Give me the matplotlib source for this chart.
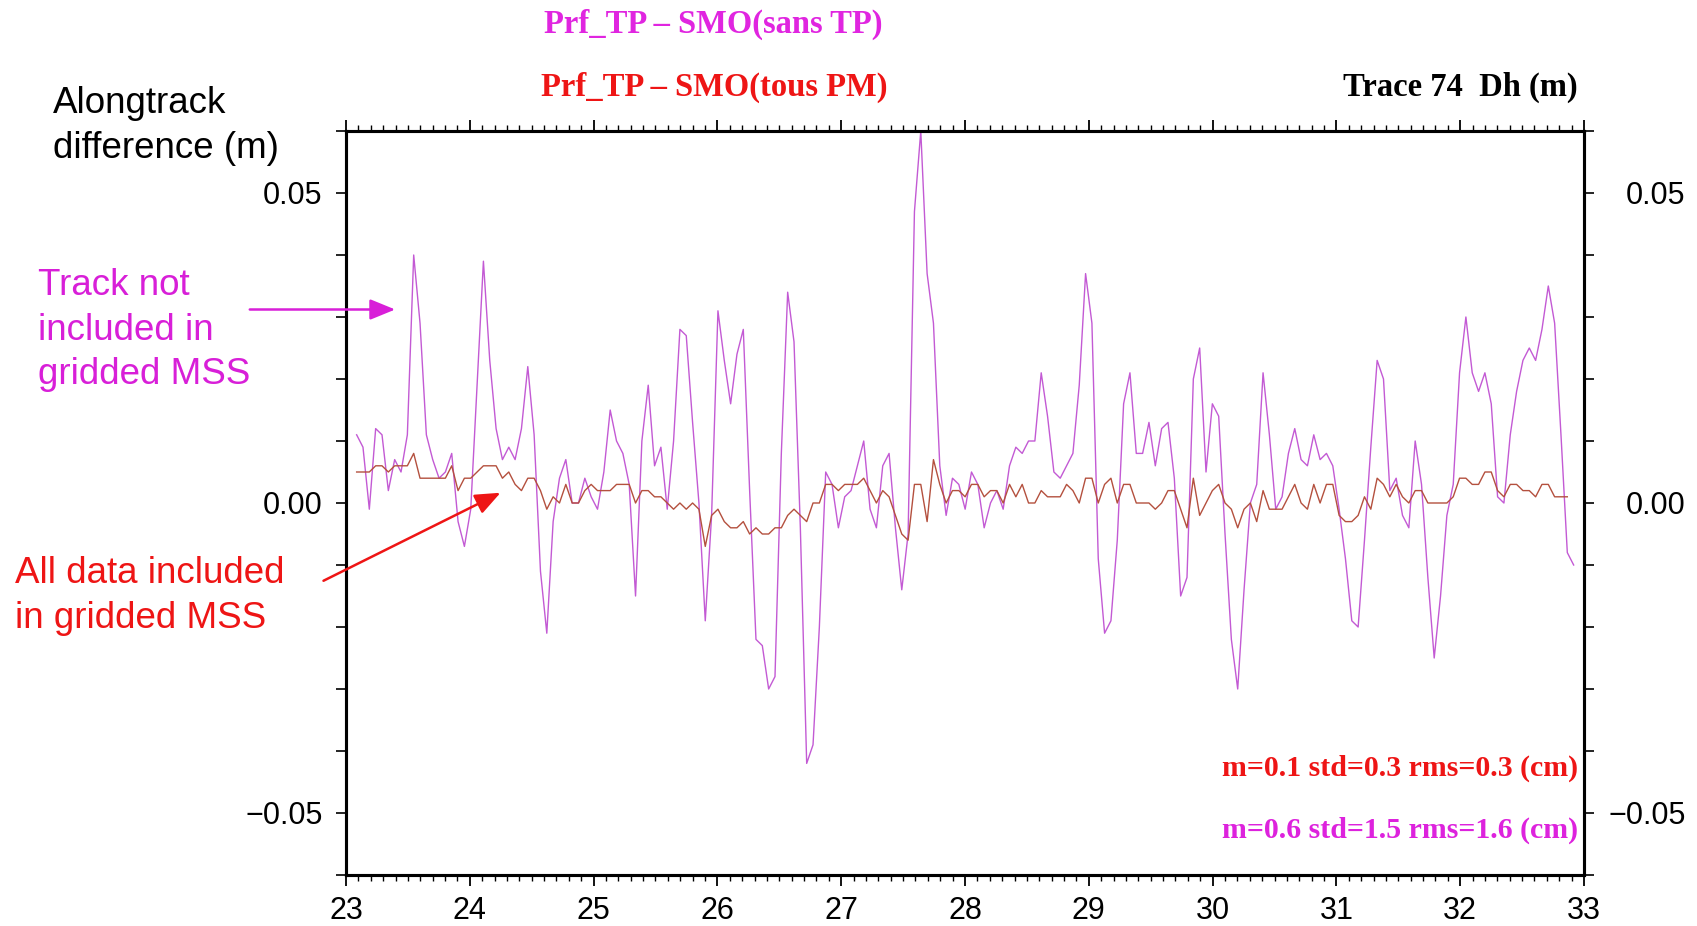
import numpy as np
import matplotlib
matplotlib.use("Agg")
import matplotlib.pyplot as plt
from matplotlib.patches import FancyArrowPatch
from matplotlib.ticker import MultipleLocator

# along-track samples, values in mm
X_START = 23.086
X_STEP = 0.0512

SANS_TP_MM = [
    11, 9, -1, 12, 11, 2, 7, 5, 11, 40, 29, 11, 7, 4, 5, 8, -3, -7, -1, 19,
    39, 23, 12, 7, 9, 7, 12, 22, 11, -11, -21, -3, 4, 7, 0, 0, 4, 1, -1, 5,
    15, 10, 8, 3, -15, 10, 19, 6, 9, -1, 10, 28, 27, 13, 0, -19, -2, 31, 23, 16,
    24, 28, 2, -22, -23, -30, -28, 8, 34, 26, -4, -42, -39, -20, 5, 3, -4, 1, 2, 6,
    10, -1, -4, 6, 8, -4, -14, -5, 47, 60, 37, 29, 6, -2, 4, 3, -1, 5, 3, -4,
    0, 2, -1, 6, 9, 8, 10, 10, 21, 14, 5, 4, 6, 8, 19, 37, 29, -9, -21, -19,
    -6, 16, 21, 8, 8, 13, 6, 12, 13, 4, -15, -12, 20, 25, 5, 16, 14, -5, -22, -30,
    -14, 0, 3, 21, 11, -1, 1, 8, 12, 7, 6, 11, 7, 8, 6, -1, -9, -19, -20, -6,
    9, 23, 20, 2, 4, -2, -4, 10, 3, -12, -25, -15, -2, 3, 21, 30, 21, 18, 21, 16,
    1, 0, 11, 18, 23, 25, 23, 28, 35, 29, 11, -8, -10,
]

TOUS_PM_MM = [
    5, 5, 5, 6, 6, 5, 6, 6, 6, 8, 4, 4, 4, 4, 4, 6, 2, 4, 4, 5,
    6, 6, 6, 4, 5, 3, 2, 4, 4, 2, -1, 1, 0, 3, 0, 0, 2, 3, 2, 2,
    2, 3, 3, 3, 0, 2, 2, 1, 1, 0, -1, 0, -1, 0, -1, -7, -2, -1, -3, -4,
    -4, -3, -5, -4, -5, -5, -4, -4, -2, -1, -2, -3, 0, 0, 3, 3, 2, 3, 3, 3,
    4, 2, 0, 2, 1, -2, -5, -6, 3, 3, -3, 7, 3, 0, 2, 2, 1, 3, 3, 1,
    2, 2, 0, 3, 1, 3, 0, 0, 2, 1, 1, 1, 3, 2, 0, 4, 4, 0, 3, 4,
    0, 3, 3, 0, 0, 0, -1, 0, 2, 2, -1, -4, 4, -2, 0, 2, 3, 0, -1, -4,
    -1, 0, -3, 2, -1, -1, -1, 1, 3, 0, -1, 3, 0, 3, 3, -2, -3, -3, -2, 1,
    -1, 4, 3, 1, 3, 1, 0, 2, 2, 0, 0, 0, 0, 1, 4, 4, 3, 3, 5, 5,
    2, 1, 3, 3, 2, 2, 1, 3, 3, 1, 1, 1,
]

X_TICKS = [23, 24, 25, 26, 27, 28, 29, 30, 31, 32, 33]
Y_TICKS = [-0.05, 0.0, 0.05]
Y_TICK_LABELS = ["\u22120.05", "0.00", "0.05"]

TITLE_SANS = "Prf_TP \u2013 SMO(sans TP)"
TITLE_TOUS = "Prf_TP \u2013 SMO(tous PM)"
TITLE_TRACE = "Trace 74  Dh (m)"
STATS_TOUS = "m=0.1 std=0.3 rms=0.3 (cm)"
STATS_SANS = "m=0.6 std=1.5 rms=1.6 (cm)"

MAG_LINE = "#c35ad4"
RED_LINE = "#b4503e"
MAG_TEXT = "#d81fd8"
RED_TEXT = "#ee1515"

plt.rcParams["font.family"] = ["Liberation Sans", "DejaVu Sans"]
SERIF = ["Liberation Serif", "DejaVu Serif"]

W, H = 1697, 926
fig = plt.figure(figsize=(W / 100, H / 100), dpi=100)


def fx(px):
    return px / W


def fy(py):
    return 1 - py / H


ax = fig.add_axes([fx(346), fy(875), fx(1584) - fx(346), fy(131) - fy(875)])

sans = np.array(SANS_TP_MM) / 1000.0
tous = np.array(TOUS_PM_MM) / 1000.0
x_sans = X_START + X_STEP * np.arange(len(sans))
x_tous = X_START + X_STEP * np.arange(len(tous))

ax.plot(x_sans, sans, color=MAG_LINE, lw=1.0, zorder=2)
ax.plot(x_tous, tous, color=RED_LINE, lw=1.0, zorder=3)

ax.set_xlim(23, 33)
ax.set_ylim(-0.06, 0.06)

ax.set_xticks(X_TICKS)
ax.set_xticklabels([str(t) for t in X_TICKS])
ax.xaxis.set_minor_locator(MultipleLocator(0.1))
ax.tick_params(axis="x", which="major", direction="out", length=8, width=1.3,
               top=True, labelsize=22, pad=7)
ax.tick_params(axis="x", which="minor", direction="out", length=4, width=1.0, top=True)

ax.set_yticks(Y_TICKS)
ax.set_yticklabels(Y_TICK_LABELS)
ax.yaxis.set_minor_locator(MultipleLocator(0.01))
ax.tick_params(axis="y", which="both", direction="out", length=7, width=1.2,
               right=False, labelsize=22, pad=10)

for sp in ax.spines.values():
    sp.set_linewidth(2.2)

# right-hand axis with right-aligned labels
ax2 = ax.twinx()
ax2.set_ylim(-0.06, 0.06)
ax2.set_yticks(Y_TICKS)
ax2.set_yticklabels(Y_TICK_LABELS)
ax2.yaxis.set_minor_locator(MultipleLocator(0.01))
ax2.tick_params(axis="y", which="both", direction="out", length=7, width=1.2,
                labelsize=22, pad=66)
for lbl in ax2.get_yticklabels():
    lbl.set_horizontalalignment("right")
for sp in ax2.spines.values():
    sp.set_linewidth(2.2)

# header texts
fig.text(fx(713), fy(24), TITLE_SANS, color="#e025e0", fontsize=23.5,
         fontweight="bold", family=SERIF, ha="center", va="center")
fig.text(fx(714), fy(87), TITLE_TOUS, color=RED_TEXT, fontsize=23.5,
         fontweight="bold", family=SERIF, ha="center", va="center")
fig.text(fx(1578), fy(87), TITLE_TRACE, color="black", fontsize=23.5,
         fontweight="bold", family=SERIF, ha="right", va="center")
fig.text(fx(53), fy(126), "Alongtrack\ndifference (m)", color="black",
         fontsize=26.5, ha="left", va="center", linespacing=1.35)

# stats
fig.text(fx(1578), fy(768), STATS_TOUS, color=RED_TEXT, fontsize=21.5,
         fontweight="bold", family=SERIF, ha="right", va="center")
fig.text(fx(1578), fy(830), STATS_SANS, color="#dd22dd", fontsize=21.5,
         fontweight="bold", family=SERIF, ha="right", va="center")

# annotations
fig.text(fx(38), fy(330), "Track not\nincluded in\ngridded MSS", color=MAG_TEXT,
         fontsize=26.5, ha="left", va="center", linespacing=1.35)
fig.text(fx(15), fy(596), "All data included\nin gridded MSS", color=RED_TEXT,
         fontsize=26.5, ha="left", va="center", linespacing=1.35)

arr_mag = FancyArrowPatch((fx(247), fy(309.5)), (fx(398), fy(309.5)),
                          transform=fig.transFigure, arrowstyle="-|>,head_length=1.1,head_width=0.45",
                          mutation_scale=14, color=MAG_TEXT, lw=1.8)
arr_red = FancyArrowPatch((fx(321), fy(582)), (fx(503), fy(491.5)),
                          transform=fig.transFigure, arrowstyle="-|>,head_length=1.1,head_width=0.45",
                          mutation_scale=14, color=RED_TEXT, lw=1.8)
fig.patches.extend([arr_mag, arr_red])

fig.savefig("out.png", dpi=100)
